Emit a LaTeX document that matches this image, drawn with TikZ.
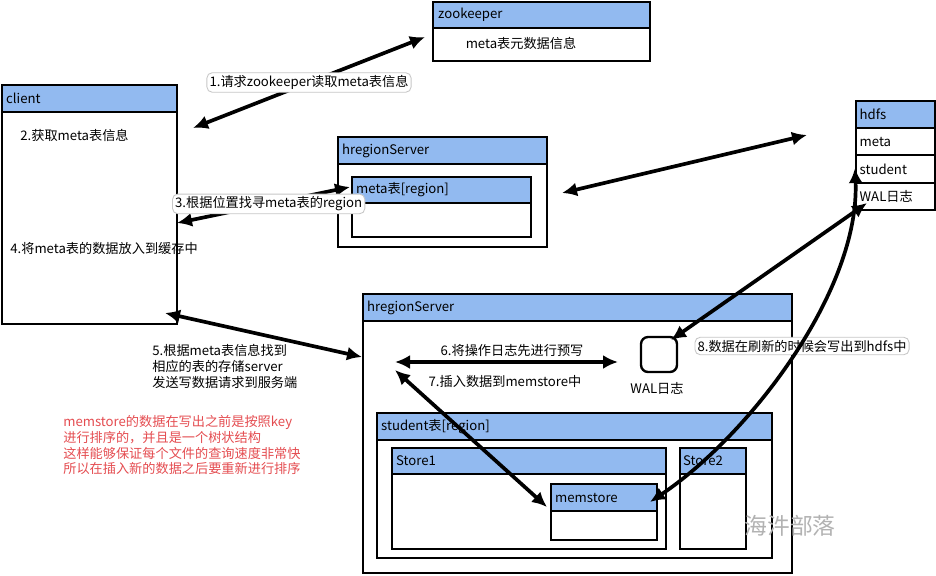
\documentclass[tikz,border=0pt]{standalone}
\usepackage{fontspec}
\setmainfont{Noto Sans CJK SC}
\usetikzlibrary{arrows.meta,fit}
\definecolor{hdrblue}{RGB}{146,186,240}
\definecolor{notered}{RGB}{228,76,80}

\begin{document}
\begin{tikzpicture}[
    x=0.02cm, y=-0.02cm,
    font=\fontsize{7.5}{9}\selectfont,
    box/.style={draw, line width=1.35pt, fill=white, inner sep=0pt},
    head/.style={box, fill=hdrblue},
    ttl/.style={anchor=west, inner sep=0pt},
    tag/.style={rounded corners=3pt, draw=black!22, line width=0.5pt, fill=white, inner sep=1.5pt},
    link/.style={{Latex[length=3mm,width=2.8mm]}-{Latex[length=3mm,width=2.8mm]}, line width=2.1pt}
  ]
    \useasboundingbox (0,0) rectangle (936,575);

    % zookeeper
    \node[box, fit={(433,2)(650,61)}] (zkBody) {};
    \node[head, fit={(433,2)(650,28)}] (zkHead) {};
    \node[ttl] (zkTitle) at ([xshift=0.12cm]zkHead.west) {zookeeper};
    \node (zkText) at (521,43) {meta表元数据信息};

    % client
    \node[box, fit={(2,85)(177,324)}] (clBody) {};
    \node[head, fit={(2,85)(177,112)}] (clHead) {};
    \node[ttl] (clTitle) at ([xshift=0.1cm]clHead.west) {client};
    \node[ttl] (step2) at (20,135) {2.获取meta表信息};
    \node[ttl] (step4) at (10,248) {4.将meta表的数据放入到缓存中};

    % hregionServer holding meta
    \node[box, fit={(338,137)(547,247)}] (rsOneBody) {};
    \node[head, fit={(338,137)(547,164)}] (rsOneHead) {};
    \node[ttl] (rsOneTitle) at ([xshift=0.1cm]rsOneHead.west) {hregionServer};
    \node[box, fit={(352,177)(531,237)}] (metaBody) {};
    \node[head, fit={(352,177)(531,203)}] (metaHead) {};
    \node[ttl] (metaTitle) at ([xshift=0.1cm]metaHead.west) {meta表[region]};

    % hdfs
    \node[head, fit={(856,101)(935,128)}] (hdfsHead) {};
    \node[box, fit={(856,128)(935,155)}] (hdfsMeta) {};
    \node[box, fit={(856,155)(935,183)}] (hdfsStu) {};
    \node[box, fit={(856,183)(935,210)}] (hdfsWal) {};
    \node[ttl] (hdfsTitle) at ([xshift=0.09cm]hdfsHead.west) {hdfs};
    \node[ttl] (hdfsMetaText) at ([xshift=0.09cm]hdfsMeta.west) {meta};
    \node[ttl] (hdfsStuText) at ([xshift=0.09cm]hdfsStu.west) {student};
    \node[ttl] (hdfsWalText) at ([xshift=0.09cm]hdfsWal.west) {WAL日志};

    % hregionServer holding student
    \node[box, fit={(363,294)(792,573)}] (rsTwoBody) {};
    \node[head, fit={(363,294)(792,321)}] (rsTwoHead) {};
    \node[ttl] (rsTwoTitle) at ([xshift=0.1cm]rsTwoHead.west) {hregionServer};
    \node[box, fit={(377,413)(772,558)}] (stuBody) {};
    \node[head, fit={(377,413)(772,440)}] (stuHead) {};
    \node[ttl] (stuTitle) at ([xshift=0.1cm]stuHead.west) {student表[region]};
    \node[box, fit={(392,448)(666,549)}] (storeOneBody) {};
    \node[head, fit={(392,448)(666,474)}] (storeOneHead) {};
    \node[ttl] (storeOneTitle) at ([xshift=0.1cm]storeOneHead.west) {Store1};
    \node[box, fit={(680,448)(746,549)}] (storeTwoBody) {};
    \node[head, fit={(680,448)(746,474)}] (storeTwoHead) {};
    \node[ttl] (storeTwoTitle) at ([xshift=0.08cm]storeTwoHead.west) {Store2};
    \node[box, fit={(551,484)(657,540)}] (memBody) {};
    \node[head, fit={(551,484)(657,511)}] (memHead) {};
    \node[ttl] (memTitle) at ([xshift=0.1cm]memHead.west) {memstore};
    \node[box, rounded corners=4pt, fit={(641,337)(677,372)}] (walBox) {};
    \node (walText) at (657,388) {WAL日志};

    % free texts
    \node[anchor=north west, align=left, inner sep=0pt] (step5) at (152,344)
      {5.根据meta表信息找到\\相应的表的存储server\\发送写数据请求到服务端};
    \node (step6) at (512,351) {6.将操作日志先进行预写};
    \node (step7) at (505,381) {7.插入数据到memstore中};
    \node[anchor=north west, align=left, inner sep=0pt, text=notered] (sortNote) at (63,415)
      {memstore的数据在写出之前是按照key\\进行排序的，并且是一个树状结构\\这样能够保证每个文件的查询速度非常快\\所以在插入新的数据之后要重新进行排序};
    \node[text=black!30, font=\fontsize{13}{15}\selectfont] (mark) at (790,526) {海汼部落};

    % arrow ends
    \coordinate (oneA) at (193,128);
    \coordinate (oneB) at (425,37);
    \coordinate (threeA) at (177,223);
    \coordinate (threeB) at (350,187);
    \coordinate (metaA) at (562,193);
    \coordinate (metaB) at (807,135);
    \coordinate (fiveA) at (165,313);
    \coordinate (fiveB) at (362,357);
    \coordinate (sixA) at (395,362);
    \coordinate (sixB) at (618,362);
    \coordinate (sevenA) at (395,370);
    \coordinate (sevenB) at (547,507);
    \coordinate (walA) at (867,203);
    \coordinate (walB) at (671,340);
    \coordinate (flushA) at (650,502);
    \coordinate (flushB) at (855,168);

    \draw[link] (oneA) -- node[tag, pos=0.5] (step1) {1.请求zookeeper读取meta表信息} (oneB);
    \draw[link] (threeA) -- node[tag, pos=0.53] (step3) {3.根据位置找寻meta表的region} (threeB);
    \draw[link] (metaA) -- (metaB);
    \draw[link] (fiveA) -- (fiveB);
    \draw[link] (sixA) -- (sixB);
    \draw[link] (sevenA) -- (sevenB);
    \draw[link] (walA) -- (walB);
    \node[tag] (step8) at (802,346) {8.数据在刷新的时候会写出到hdfs中};
    \draw[link] (flushA) .. controls (750,435) and (860,290) .. (flushB);
\end{tikzpicture}
\end{document}
